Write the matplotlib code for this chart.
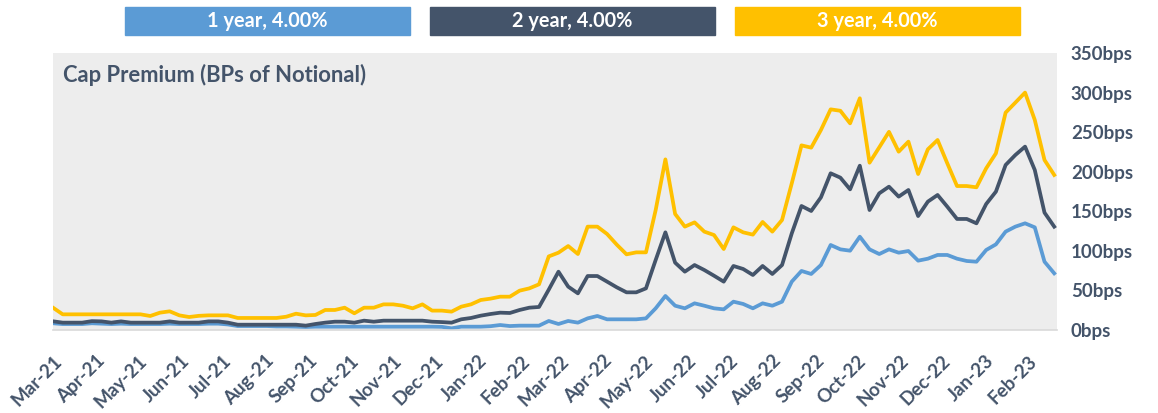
import matplotlib
matplotlib.use('Agg')
import matplotlib.pyplot as plt
import matplotlib.dates as mdates
from matplotlib.patches import Rectangle
import pandas as pd

# weekly observations starting at the beginning of Mar-21
START = "2021-03-01"

series_names = ["1 year, 4.00%", "2 year, 4.00%", "3 year, 4.00%"]
series_colors = ["#5B9BD5", "#44546A", "#FFC000"]

cap_1y = [8.5, 7.5, 7.5, 7.5, 8.5, 8.0, 7.5, 8.0, 7.5, 7.5,
          7.5, 7.5, 8.0, 7.5, 7.5, 7.5, 8.0, 8.0, 7.0, 5.0,
          5.0, 5.0, 5.0, 4.5, 4.5, 4.2, 3.8, 4.2, 4.2, 4.2,
          4.2, 4.2, 4.2, 4.2, 4.2, 4.2, 4.2, 4.2, 4.2, 4.2,
          4.0, 2.1, 4.2, 4.2, 4.2, 4.8, 6.3, 5.0, 5.5, 5.5,
          5.5, 11.4, 7.6, 11.4, 9.3, 14.7, 17.7, 13.5, 13.5, 13.5,
          13.5, 14.7, 27.4, 43.0, 30.7, 27.4, 33.7, 30.7, 27.4, 26.1,
          35.8, 32.9, 27.4, 33.7, 30.7, 35.8, 61.1, 74.6, 70.8, 82.1,
          107.4, 101.9, 100.2, 117.9, 101.9, 96.0, 101.9, 97.7, 99.8, 87.6,
          90.1, 94.8, 94.8, 90.1, 87.2, 86.3, 101.1, 108.2, 124.3, 130.6,
          134.8, 129.7, 86.3, 71.6]

cap_2y = [11.0, 9.3, 9.3, 9.3, 11.2, 10.9, 9.3, 10.9, 9.3, 9.3,
          9.3, 9.3, 10.9, 9.3, 9.3, 9.3, 10.9, 10.9, 9.3, 6.7,
          6.7, 6.7, 6.7, 6.7, 6.7, 6.7, 5.5, 7.6, 9.3, 10.5,
          10.5, 9.3, 11.8, 10.5, 11.8, 11.8, 11.8, 11.8, 11.8, 10.5,
          10.0, 9.3, 13.5, 15.2, 18.1, 20.2, 21.9, 21.5, 25.3, 28.2,
          29.1, 51.0, 73.7, 54.8, 46.3, 68.2, 68.2, 61.1, 53.9, 47.6,
          47.6, 52.6, 88.5, 123.4, 85.1, 73.7, 82.1, 75.8, 68.6, 61.1,
          80.9, 77.1, 69.5, 80.9, 70.8, 82.1, 122.1, 156.7, 150.4, 167.6,
          198.0, 192.5, 177.7, 207.6, 151.6, 172.7, 181.1, 168.5, 176.9, 144.0,
          162.2, 170.6, 155.8, 140.3, 140.3, 134.8, 159.2, 174.8, 208.5, 221.1,
          231.7, 202.2, 148.3, 130.6]

cap_3y = [28.2, 19.8, 19.8, 19.8, 19.8, 19.8, 19.8, 19.8, 19.8, 19.8,
          17.7, 21.9, 23.6, 18.5, 16.4, 17.9, 18.5, 18.5, 18.5, 15.2,
          15.2, 15.2, 15.2, 15.2, 16.8, 20.6, 18.5, 19.0, 25.3, 25.3,
          28.2, 21.1, 28.2, 28.2, 32.4, 32.4, 30.7, 27.4, 32.4, 24.5,
          24.5, 23.2, 29.5, 32.4, 37.9, 39.6, 42.1, 42.1, 49.7, 52.6,
          57.7, 93.0, 97.7, 106.1, 96.0, 130.6, 130.6, 121.3, 107.8, 95.6,
          98.1, 98.1, 151.6, 215.6, 146.6, 130.6, 136.0, 124.3, 120.0, 102.3,
          129.7, 123.4, 120.5, 136.5, 124.3, 139.0, 185.3, 233.3, 230.4, 252.7,
          278.8, 277.0, 261.1, 292.8, 211.4, 230.8, 250.4, 225.3, 238.0, 197.1,
          228.3, 240.1, 210.6, 181.9, 181.9, 180.3, 204.3, 223.2, 274.7, 287.3,
          300.0, 265.4, 214.8, 195.9]

y_ticks = [0, 50, 100, 150, 200, 250, 300, 350]

TEXT = "#44546A"
plt.rcParams['font.family'] = ['Lato', 'DejaVu Sans']

dates = pd.date_range(START, periods=len(cap_1y), freq="7D")

fig = plt.figure(figsize=(11.58, 4.13), dpi=100)
ax = fig.add_axes([53/1158, 1 - 330/413, 1004/1158, 277/413])
ax.set_facecolor("#EDEDED")

for vals, col in zip([cap_1y, cap_2y, cap_3y], series_colors):
    ax.plot(dates, vals, color=col, lw=2.7, solid_joinstyle='round')

ax.set_xlim(dates[0], dates[-1] + pd.Timedelta(days=2))
ax.set_ylim(0, 350)
ax.set_yticks(y_ticks)
ax.set_yticklabels([f"{v}bps" for v in y_ticks])
ax.yaxis.tick_right()

ax.xaxis.set_major_locator(mdates.MonthLocator())
ax.xaxis.set_major_formatter(mdates.DateFormatter("%b-%y"))
for lab in ax.get_xticklabels():
    lab.set_rotation(45)
    lab.set_ha("right")
    lab.set_rotation_mode("anchor")

ax.tick_params(axis="x", length=0, pad=16, labelsize=13.5, labelcolor=TEXT)
ax.tick_params(axis="y", length=0, pad=10, labelsize=13.5, labelcolor=TEXT)
for lab in ax.get_xticklabels() + ax.get_yticklabels():
    lab.set_fontweight("bold")

for side in ["top", "left", "right"]:
    ax.spines[side].set_visible(False)
ax.spines["bottom"].set_color("#D9D9D9")
ax.spines["bottom"].set_linewidth(1.2)

ax.text(0.01, 0.92, "Cap Premium (BPs of Notional)", transform=ax.transAxes,
        fontsize=15.8, fontweight="bold", color=TEXT, va="center")

# legend as coloured boxes across the top
box_left = [125, 430, 735]
for name, col, x0 in zip(series_names, series_colors, box_left):
    fig.patches.append(Rectangle((x0/1158, 1 - 35/413), 285/1158, 28/413,
                                 transform=fig.transFigure, color=col))
    fig.text((x0 + 142.5)/1158, 1 - 21/413, name, color="white",
             fontsize=14.3, fontweight="bold", ha="center", va="center")

fig.savefig("out.png", dpi=100)
